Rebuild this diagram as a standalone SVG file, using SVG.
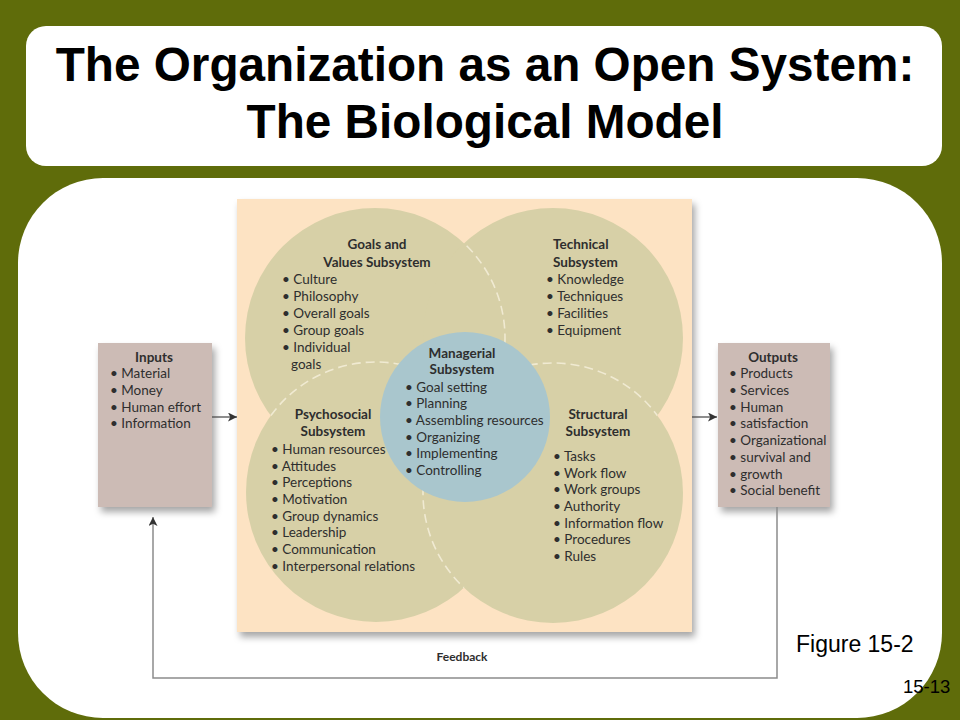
<svg xmlns="http://www.w3.org/2000/svg" width="960" height="720" viewBox="0 0 960 720">
<style>
.t{font-family:Lato,"Open Sans","Liberation Sans",sans-serif;font-size:13.5px;fill:#2e2e2e}
.h{font-family:Lato,"Open Sans","Liberation Sans",sans-serif;font-size:13.5px;font-weight:bold;fill:#2e2e2e}
.c{text-anchor:middle}
.circ{fill:#d7d0a7}
.box{fill:#ccbbb5}
.dash{fill:none;stroke:#f4efd9;stroke-width:1.6;stroke-dasharray:9 5;opacity:0.85}
.title{font-family:"Liberation Sans",Arial,sans-serif;font-weight:bold;font-size:47.7px;fill:#000;text-anchor:middle}
.lbl{font-family:"Liberation Sans",Arial,sans-serif;fill:#000}
</style>
<defs>
<filter id="sh" x="-10%" y="-10%" width="130%" height="130%">
<feDropShadow dx="3" dy="5" stdDeviation="3.5" flood-color="#000" flood-opacity="0.35"/>
</filter>
<marker id="ah" viewBox="0 0 10 10" refX="10" refY="5" markerWidth="11" markerHeight="9" markerUnits="userSpaceOnUse" orient="auto">
<path d="M0,0 L10,5 L0,10 L2.5,5 z" fill="#333"/>
</marker>
<clipPath id="cTech"><circle cx="553" cy="338" r="130"/></clipPath>
<clipPath id="cGoals"><circle cx="375" cy="338" r="130"/></clipPath>
<clipPath id="cTP"><circle cx="553" cy="338" r="130"/><circle cx="376" cy="492" r="130"/></clipPath>
</defs>
<rect x="0" y="0" width="960" height="720" fill="#5f6c0a"/>
<rect x="26" y="26" width="916" height="140" rx="20" fill="#fff"/>
<rect x="18" y="178" width="924" height="540" rx="85" fill="#fff"/>
<g id="title">
<text class="title" x="485" y="81">The Organization as an Open System:</text>
<text class="title" x="485" y="138">The Biological Model</text>
</g>
<rect id="panel" x="237" y="199" width="455" height="433" fill="#fde3c3" filter="url(#sh)"/>
<g id="goals">
<circle class="circ" cx="375" cy="338" r="130"/>
<text class="h c" x="377" y="249">Goals and</text>
<text class="h c" x="377" y="267">Values Subsystem</text>
<text class="t" x="282" y="284">• Culture</text>
<text class="t" x="282" y="301">• Philosophy</text>
<text class="t" x="282" y="318">• Overall goals</text>
<text class="t" x="282" y="335">• Group goals</text>
<text class="t" x="282" y="352">• Individual</text>
<text class="t" x="291" y="369">goals</text>
</g>
<g id="technical">
<circle class="circ" cx="553" cy="338" r="130"/>
<text class="h" x="553" y="249">Technical</text>
<text class="h" x="553" y="267">Subsystem</text>
<text class="t" x="546" y="284">• Knowledge</text>
<text class="t" x="546" y="301">• Techniques</text>
<text class="t" x="546" y="318">• Facilities</text>
<text class="t" x="546" y="335">• Equipment</text>
</g>
<g id="psychosocial">
<circle class="circ" cx="376" cy="492" r="130"/>
<text class="h c" x="333" y="419">Psychosocial</text>
<text class="h c" x="333" y="436">Subsystem</text>
<text class="t" x="271" y="454">• Human resources</text>
<text class="t" x="271" y="471">• Attitudes</text>
<text class="t" x="271" y="487">• Perceptions</text>
<text class="t" x="271" y="504">• Motivation</text>
<text class="t" x="271" y="521">• Group dynamics</text>
<text class="t" x="271" y="537">• Leadership</text>
<text class="t" x="271" y="554">• Communication</text>
<text class="t" x="271" y="571">• Interpersonal relations</text>
</g>
<g id="structural">
<circle class="circ" cx="553" cy="493" r="130"/>
<text class="h c" x="598" y="419">Structural</text>
<text class="h c" x="598" y="436">Subsystem</text>
<text class="t" x="553" y="461">• Tasks</text>
<text class="t" x="553" y="478">• Work flow</text>
<text class="t" x="553" y="494">• Work groups</text>
<text class="t" x="553" y="511">• Authority</text>
<text class="t" x="553" y="528">• Information flow</text>
<text class="t" x="553" y="544">• Procedures</text>
<text class="t" x="553" y="561">• Rules</text>
</g>
<g id="overlaps">
<circle class="dash" cx="375" cy="338" r="130" clip-path="url(#cTech)"/>
<circle class="dash" cx="376" cy="492" r="130" clip-path="url(#cGoals)"/>
<circle class="dash" cx="553" cy="493" r="130" clip-path="url(#cTP)"/>
</g>
<g id="managerial">
<circle cx="465" cy="417" r="85" fill="#a9c6cd"/>
<text class="h c" x="462" y="358">Managerial</text>
<text class="h c" x="462" y="374">Subsystem</text>
<text class="t" x="405" y="392">• Goal setting</text>
<text class="t" x="405" y="408">• Planning</text>
<text class="t" x="405" y="425">• Assembling resources</text>
<text class="t" x="405" y="442">• Organizing</text>
<text class="t" x="405" y="458">• Implementing</text>
<text class="t" x="405" y="475">• Controlling</text>
</g>
<g id="inputs">
<rect class="box" x="98" y="343" width="114" height="164" filter="url(#sh)"/>
<text class="h c" x="154" y="362">Inputs</text>
<text class="t" x="110" y="378">• Material</text>
<text class="t" x="110" y="395">• Money</text>
<text class="t" x="110" y="412">• Human effort</text>
<text class="t" x="110" y="428">• Information</text>
</g>
<g id="outputs">
<rect class="box" x="718" y="343" width="112" height="164" filter="url(#sh)"/>
<text class="h c" x="773" y="362">Outputs</text>
<text class="t" x="729" y="378">• Products</text>
<text class="t" x="729" y="395">• Services</text>
<text class="t" x="729" y="412">• Human</text>
<text class="t" x="729" y="428">• satisfaction</text>
<text class="t" x="729" y="445">• Organizational</text>
<text class="t" x="729" y="462">• survival and</text>
<text class="t" x="729" y="479">• growth</text>
<text class="t" x="729" y="495">• Social benefit</text>
</g>
<g id="connectors">
<line x1="212" y1="417" x2="237" y2="417" stroke="#444" stroke-width="1.2" marker-end="url(#ah)"/>
<line x1="692" y1="417" x2="717" y2="417" stroke="#444" stroke-width="1.2" marker-end="url(#ah)"/>
<polyline points="777,507 777,678 153,678 153,517" fill="none" stroke="#8c8c8c" stroke-width="1.5" marker-end="url(#ah)"/>
<text class="h c" x="462" y="661" style="font-size:12px">Feedback</text>
</g>
<text class="lbl" x="796" y="652" font-size="23">Figure 15-2</text>
<text class="lbl" x="903" y="693" font-size="18.5">15-13</text>
</svg>
